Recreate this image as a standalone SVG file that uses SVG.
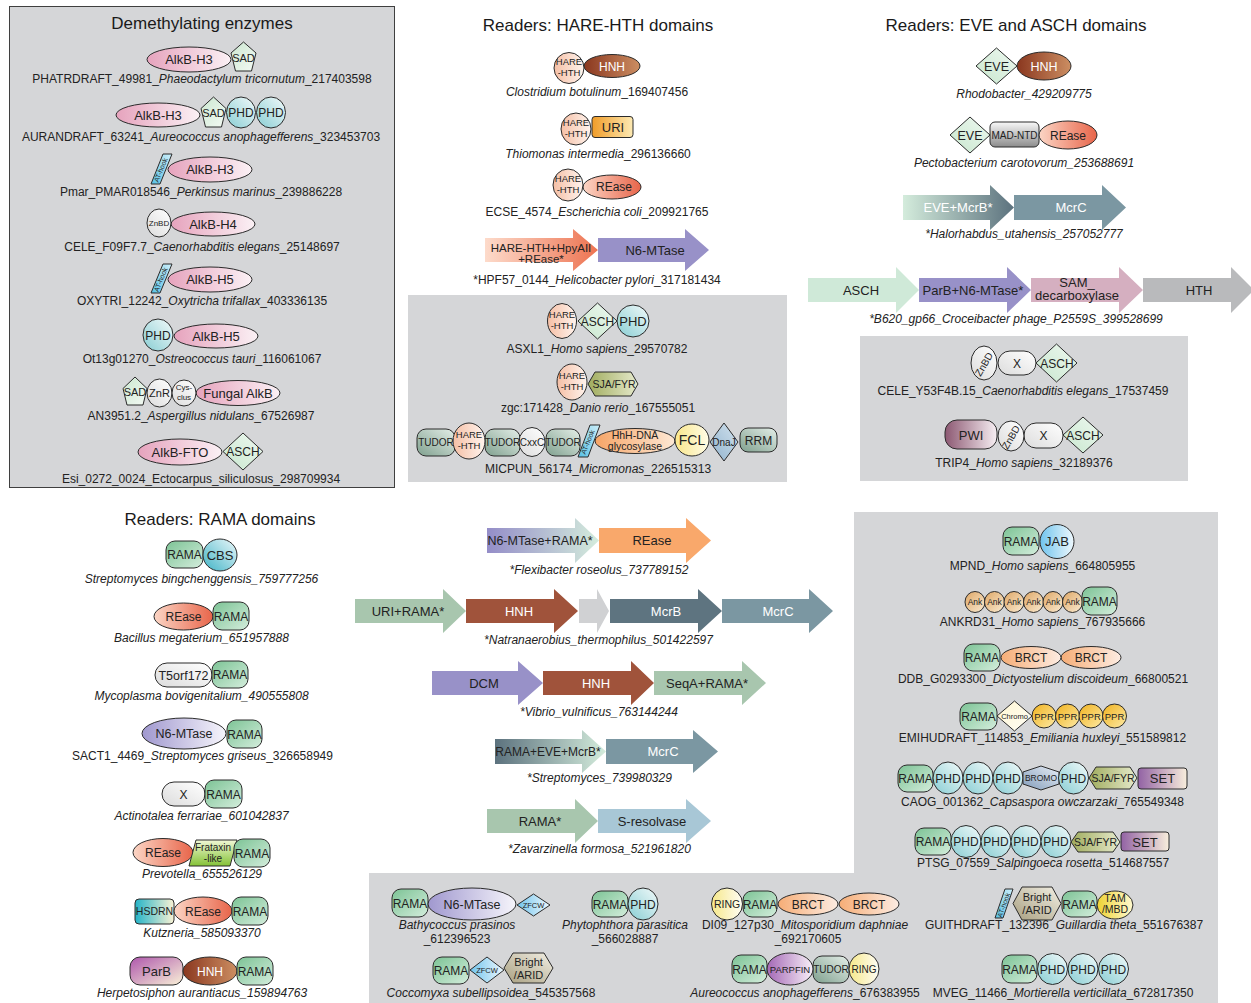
<svg xmlns="http://www.w3.org/2000/svg" width="1251" height="1003" viewBox="0 0 1251 1003">
<defs>
<style>
text{font-family:"Liberation Sans",Arial,Helvetica,sans-serif;fill:#222}
.t{font-size:17px;text-anchor:middle;fill:#1a1a1a}
.l{font-size:12px;text-anchor:middle}
.d{font-size:13px;text-anchor:middle}
.r{font-size:12px;text-anchor:middle}
.s{font-size:10px;text-anchor:middle}
.xs{font-size:8px;text-anchor:middle}
.w{fill:#fff}
.i{font-style:italic}
.n ellipse,.n rect,.n polygon{stroke:#2b2b2b;stroke-width:1}
.panel{fill:#d5d6d8}
.alkb{fill:url(#gAlkb)}.sad{fill:url(#gSad)}.phd{fill:url(#gPhd)}.asch{fill:url(#gAsch)}
.at{fill:url(#gAt)}.wh{fill:url(#gWhite)}.hare{fill:url(#gHare)}.hnh{fill:url(#gHnh)}
.rease{fill:url(#gRease)}.uri{fill:url(#gUri)}.rama{fill:url(#gRama)}.cbs{fill:url(#gCbs)}
.n6{fill:url(#gN6)}.frat{fill:url(#gFrat)}.hsdrn{fill:url(#gHsdrn)}.parb{fill:url(#gParb)}
.jab{fill:url(#gJab)}.ank{fill:url(#gAnk)}.brct{fill:url(#gBrct)}.ppr{fill:url(#gPpr)}
.bromo{fill:url(#gBromo)}.sja{fill:url(#gSja)}.set{fill:url(#gSet)}.ring{fill:url(#gRing)}
.tudor{fill:url(#gTudor)}.arid{fill:url(#gArid)}.tam{fill:url(#gTam)}.parp{fill:url(#gParp)}
.fcl{fill:url(#gFcl)}.dnaj{fill:url(#gDnaj)}.hhh{fill:url(#gHhh)}.mad{fill:url(#gMad)}
.pwi{fill:url(#gPwi)}.chromo{fill:url(#gChromo)}
</style>
<linearGradient id="gAlkb" x1="0" y1="0" x2="1" y2="0"><stop offset="0" stop-color="#e6a3bd"/><stop offset="1" stop-color="#fbf1f5"/></linearGradient>
<linearGradient id="gSad" x1="0" y1="0" x2="1" y2="1"><stop offset="0" stop-color="#cbe7d0"/><stop offset="1" stop-color="#f4faf4"/></linearGradient>
<linearGradient id="gPhd" x1="0" y1="1" x2="1" y2="0"><stop offset="0" stop-color="#88cdd3"/><stop offset="1" stop-color="#f2fafa"/></linearGradient>
<linearGradient id="gAsch" x1="0" y1="1" x2="1" y2="0"><stop offset="0" stop-color="#c8e7ce"/><stop offset="1" stop-color="#eef8f0"/></linearGradient>
<linearGradient id="gAt" x1="0" y1="1" x2="1" y2="0"><stop offset="0" stop-color="#56c0e5"/><stop offset="1" stop-color="#cdeef9"/></linearGradient>
<linearGradient id="gWhite" x1="1" y1="0" x2="0" y2="1"><stop offset="0" stop-color="#ffffff"/><stop offset="1" stop-color="#dcdcdc"/></linearGradient>
<linearGradient id="gHare" x1="0" y1="0" x2="1" y2="0"><stop offset="0" stop-color="#f5bfa5"/><stop offset="1" stop-color="#fff4ee"/></linearGradient>
<linearGradient id="gHnh" x1="0" y1="0" x2="1" y2="0"><stop offset="0" stop-color="#8a371f"/><stop offset="1" stop-color="#cc8e62"/></linearGradient>
<linearGradient id="gRease" x1="0" y1="0" x2="1" y2="0"><stop offset="0" stop-color="#fbd5c5"/><stop offset="1" stop-color="#e8654a"/></linearGradient>
<linearGradient id="gUri" x1="0" y1="0" x2="1" y2="0"><stop offset="0" stop-color="#f09c28"/><stop offset="1" stop-color="#fdeab4"/></linearGradient>
<linearGradient id="gRama" x1="0" y1="0" x2="1" y2="1"><stop offset="0" stop-color="#7cc395"/><stop offset="1" stop-color="#d4eddc"/></linearGradient>
<linearGradient id="gCbs" x1="0" y1="1" x2="1" y2="0"><stop offset="0" stop-color="#40b3c6"/><stop offset="1" stop-color="#ecf8fa"/></linearGradient>
<linearGradient id="gN6" x1="0" y1="0" x2="1" y2="0"><stop offset="0" stop-color="#a098cf"/><stop offset="1" stop-color="#f6f5fb"/></linearGradient>
<linearGradient id="gFrat" x1="0" y1="1" x2="0" y2="0"><stop offset="0" stop-color="#84c236"/><stop offset="1" stop-color="#f1f8d6"/></linearGradient>
<linearGradient id="gHsdrn" x1="0" y1="0" x2="1" y2="0"><stop offset="0" stop-color="#25b4c8"/><stop offset="1" stop-color="#faf2d4"/></linearGradient>
<linearGradient id="gParb" x1="0" y1="0" x2="1" y2="1"><stop offset="0" stop-color="#ae56ac"/><stop offset="1" stop-color="#faf2d8"/></linearGradient>
<linearGradient id="gJab" x1="0" y1="0" x2="1" y2="0"><stop offset="0" stop-color="#70c4ee"/><stop offset="1" stop-color="#eef8fd"/></linearGradient>
<linearGradient id="gAnk" x1="0" y1="0" x2="1" y2="1"><stop offset="0" stop-color="#dea664"/><stop offset="1" stop-color="#faecd4"/></linearGradient>
<linearGradient id="gBrct" x1="0" y1="0" x2="1" y2="0"><stop offset="0" stop-color="#f6ad76"/><stop offset="1" stop-color="#fdece2"/></linearGradient>
<linearGradient id="gPpr" x1="0" y1="0" x2="1" y2="1"><stop offset="0" stop-color="#f0b21e"/><stop offset="1" stop-color="#fdeaa6"/></linearGradient>
<linearGradient id="gBromo" x1="0" y1="1" x2="1" y2="0"><stop offset="0" stop-color="#829cba"/><stop offset="1" stop-color="#e8eef6"/></linearGradient>
<linearGradient id="gSja" x1="0" y1="0" x2="1" y2="0"><stop offset="0" stop-color="#a0ac5e"/><stop offset="1" stop-color="#e6eacc"/></linearGradient>
<linearGradient id="gSet" x1="0" y1="0" x2="1" y2="0"><stop offset="0" stop-color="#9262a4"/><stop offset="1" stop-color="#f8eedc"/></linearGradient>
<linearGradient id="gRing" x1="0" y1="0" x2="1" y2="0"><stop offset="0" stop-color="#f6e88a"/><stop offset="1" stop-color="#fffdf4"/></linearGradient>
<linearGradient id="gTudor" x1="0" y1="1" x2="1" y2="0"><stop offset="0" stop-color="#7fa08e"/><stop offset="1" stop-color="#e4eee8"/></linearGradient>
<linearGradient id="gArid" x1="0" y1="1" x2="1" y2="0"><stop offset="0" stop-color="#a89f80"/><stop offset="1" stop-color="#f2efe4"/></linearGradient>
<linearGradient id="gTam" x1="0" y1="0" x2="1" y2="0"><stop offset="0" stop-color="#eed232"/><stop offset="1" stop-color="#fffad0"/></linearGradient>
<linearGradient id="gParp" x1="0" y1="0" x2="1" y2="0"><stop offset="0" stop-color="#a468b6"/><stop offset="1" stop-color="#f8f0f8"/></linearGradient>
<linearGradient id="gFcl" x1="0" y1="0" x2="1" y2="0"><stop offset="0" stop-color="#fae78a"/><stop offset="1" stop-color="#fffce8"/></linearGradient>
<linearGradient id="gDnaj" x1="0" y1="1" x2="1" y2="0"><stop offset="0" stop-color="#90b2cd"/><stop offset="1" stop-color="#d2e2ee"/></linearGradient>
<linearGradient id="gHhh" x1="0" y1="0" x2="1" y2="0"><stop offset="0" stop-color="#f6a466"/><stop offset="1" stop-color="#fde8d4"/></linearGradient>
<linearGradient id="gMad" x1="0" y1="1" x2="0" y2="0"><stop offset="0" stop-color="#8c8c8c"/><stop offset="1" stop-color="#f8f8f8"/></linearGradient>
<linearGradient id="gPwi" x1="0" y1="0" x2="1" y2="0"><stop offset="0" stop-color="#8c5872"/><stop offset="1" stop-color="#f7eff3"/></linearGradient>
<linearGradient id="gChromo" x1="0" y1="0" x2="1" y2="1"><stop offset="0" stop-color="#fff6d2"/><stop offset="1" stop-color="#fffef6"/></linearGradient>
<linearGradient id="aHare" x1="0" y1="0" x2="1" y2="0"><stop offset="0" stop-color="#fddbcb"/><stop offset="1" stop-color="#ed7351"/></linearGradient>
<linearGradient id="aEve" x1="0" y1="0" x2="1" y2="0"><stop offset="0" stop-color="#d4ecdc"/><stop offset="1" stop-color="#5c727e"/></linearGradient>
<linearGradient id="aN6r" x1="0" y1="0" x2="1" y2="0"><stop offset="0" stop-color="#948dc8"/><stop offset="1" stop-color="#d4ecdc"/></linearGradient>
<linearGradient id="aRev" x1="0" y1="0" x2="1" y2="0"><stop offset="0" stop-color="#5c727e"/><stop offset="1" stop-color="#d4ecdc"/></linearGradient>
</defs>

<!-- panels -->
<g id="panels">
<rect x="9.5" y="6.5" width="385" height="481" class="panel" stroke="#3f3f3f" stroke-width="1"/>
<rect x="408" y="295" width="379" height="187" class="panel"/>
<rect x="860" y="336" width="328" height="145" class="panel"/>
<path d="M854,512 H1218 V1003 H369 V873 H854 Z" class="panel"/>
</g>

<g id="titles">
<text class="t" x="202" y="29">Demethylating enzymes</text>
<text class="t" x="598" y="31">Readers: HARE-HTH domains</text>
<text class="t" x="1016" y="31">Readers: EVE and ASCH domains</text>
<text class="t" x="220" y="525">Readers: RAMA domains</text>
</g>

<g id="connectors"/>

<!-- Demethylating enzymes -->
<g id="d-phatrdraft" class="n">
<ellipse class="alkb" cx="189" cy="59.5" rx="42" ry="12.5"/>
<polygon class="sad" points="243.5,42 256,53 251.5,71 235.5,71 231,53"/>
<text class="d" x="189" y="64">AlkB-H3</text>
<text x="243.5" y="62" font-size="11" text-anchor="middle">SAD</text>
<text class="l" x="202" y="83">PHATRDRAFT_49981_<tspan class="i">Phaeodactylum tricornutum</tspan>_217403598</text>
</g>
<g id="d-aurandraft" class="n">
<ellipse class="alkb" cx="158" cy="115" rx="42" ry="12"/>
<polygon class="sad" points="213.5,97 226,108.5 221.5,127 205.5,127 201,108.5"/>
<ellipse class="phd" cx="241" cy="112.5" rx="14.5" ry="15.5"/>
<ellipse class="phd" cx="271" cy="112.5" rx="14.5" ry="15.5"/>
<text class="d" x="158" y="119.5">AlkB-H3</text>
<text x="213.5" y="117" font-size="11" text-anchor="middle">SAD</text>
<text class="r" x="241" y="117">PHD</text>
<text class="r" x="271" y="117">PHD</text>
<text class="l" x="201" y="141">AURANDRAFT_63241_<tspan class="i">Aureococcus anophagefferens</tspan>_323453703</text>
</g>
<g id="d-pmar" class="n">
<polygon class="at" points="151,184 160,184 172,154 163,154"/>
<text font-size="7" text-anchor="middle" transform="translate(163,171) rotate(-68)">AT-hook</text>
<ellipse class="alkb" cx="210" cy="169.5" rx="42" ry="12.5"/>
<text class="d" x="210" y="174">AlkB-H3</text>
<text class="l" x="201" y="196">Pmar_PMAR018546_<tspan class="i">Perkinsus marinus</tspan>_239886228</text>
</g>
<g id="d-cele-f09f7" class="n">
<ellipse class="alkb" cx="213" cy="224" rx="42" ry="12"/>
<ellipse class="wh" cx="159" cy="223" rx="12" ry="14"/>
<text class="xs" x="159" y="226">ZnBD</text>
<text class="d" x="213" y="228.5">AlkB-H4</text>
<text class="l" x="202" y="251">CELE_F09F7.7_<tspan class="i">Caenorhabditis elegans</tspan>_25148697</text>
</g>
<g id="d-oxytri" class="n">
<polygon class="at" points="151,293 160,293 172,264 163,264"/>
<text font-size="7" text-anchor="middle" transform="translate(163,280.5) rotate(-68)">AT-hook</text>
<ellipse class="alkb" cx="210" cy="279.5" rx="42" ry="12.5"/>
<text class="d" x="210" y="284">AlkB-H5</text>
<text class="l" x="202" y="305">OXYTRI_12242_<tspan class="i">Oxytricha trifallax</tspan>_403336135</text>
</g>
<g id="d-ot13g01270" class="n">
<ellipse class="alkb" cx="216" cy="336" rx="42" ry="12"/>
<ellipse class="phd" cx="158" cy="335" rx="15" ry="16"/>
<text class="r" x="158" y="339.5">PHD</text>
<text class="d" x="216" y="340.5">AlkB-H5</text>
<text class="l" x="202" y="363">Ot13g01270_<tspan class="i">Ostreococcus tauri</tspan>_116061067</text>
</g>
<g id="d-an3951" class="n">
<ellipse class="alkb" cx="238" cy="393" rx="42" ry="12.5"/>
<polygon class="sad" points="135,377 147,388.5 143,405 127,405 123,388.5"/>
<ellipse class="wh" cx="159.5" cy="393" rx="12.5" ry="14"/>
<ellipse class="wh" cx="184" cy="393" rx="12" ry="13"/>
<text x="135" y="396" font-size="11" text-anchor="middle">SAD</text>
<text x="159.5" y="397" font-size="11" text-anchor="middle">ZnR</text>
<text class="xs" x="184" y="390">Cys-</text>
<text class="xs" x="184" y="400">clus</text>
<text class="d" x="238" y="397.5">Fungal AlkB</text>
<text class="l" x="201" y="420">AN3951.2_<tspan class="i">Aspergillus nidulans</tspan>_67526987</text>
</g>
<g id="d-esi0272" class="n">
<ellipse class="alkb" cx="180" cy="452" rx="42" ry="13"/>
<polygon class="asch" points="223,451.5 243,433 263,451.5 243,470"/>
<text class="d" x="180" y="456.5">AlkB-FTO</text>
<text class="r" x="243" y="456">ASCH</text>
<text class="l" x="201" y="483">Esi_0272_0024_Ectocarpus_siliculosus_298709934</text>
</g>

<!-- HARE-HTH -->
<g id="h-clostridium" class="n">
<ellipse class="hnh" cx="612" cy="66" rx="28" ry="11.5"/>
<ellipse class="hare" cx="569" cy="68" rx="15" ry="15.5"/>
<text x="569" y="64.5" font-size="9.5" text-anchor="middle" fill="#444">HARE</text>
<text x="569" y="76" font-size="9.5" text-anchor="middle" fill="#444">-HTH</text>
<text class="r w" x="612" y="70.5">HNH</text>
<text class="l" x="597" y="95.5"><tspan class="i">Clostridium botulinum</tspan>_169407456</text>
</g>
<g id="h-thiomonas" class="n">
<rect class="uri" x="592" y="116.5" width="41" height="21" rx="3"/>
<ellipse class="hare" cx="576" cy="129" rx="15" ry="16"/>
<text x="576" y="125.5" font-size="9.5" text-anchor="middle" fill="#444">HARE</text>
<text x="576" y="137" font-size="9.5" text-anchor="middle" fill="#444">-HTH</text>
<text class="d" x="613" y="131.5">URI</text>
<text class="l" x="598" y="158"><tspan class="i">Thiomonas intermedia</tspan>_296136660</text>
</g>
<g id="h-ecse4574" class="n">
<ellipse class="rease" cx="612" cy="187" rx="29" ry="12"/>
<ellipse class="hare" cx="568" cy="185" rx="15" ry="16"/>
<text x="568" y="181.5" font-size="9.5" text-anchor="middle" fill="#444">HARE</text>
<text x="568" y="193" font-size="9.5" text-anchor="middle" fill="#444">-HTH</text>
<text class="r" x="614" y="191">REase</text>
<text class="l" x="597" y="216">ECSE_4574_<tspan class="i">Escherichia coli</tspan>_209921765</text>
</g>
<g id="h-hpf57">
<path d="M485,238 L573,238 L573,229 L598,250 L573,271 L573,262 L485,262 Z" fill="url(#aHare)"/>
<path d="M598,238 L685,238 L685,229 L709,250 L685,271 L685,262 L598,262 Z" fill="#9891c8"/>
<text x="541" y="252" font-size="11.5" text-anchor="middle">HARE-HTH+HpyAII</text>
<text x="541" y="263" font-size="11.5" text-anchor="middle">+REase*</text>
<text class="d" x="655" y="255">N6-MTase</text>
<text class="l" x="597" y="284">*HPF57_0144_<tspan class="i">Helicobacter pylori</tspan>_317181434</text>
</g>
<g id="h-asxl1" class="n">
<ellipse class="hare" cx="562" cy="321" rx="14.5" ry="17.5"/>
<polygon class="asch" points="578,321 597.5,303 617,321 597.5,339"/>
<ellipse class="phd" cx="633" cy="321" rx="16" ry="16"/>
<text x="562" y="317.5" font-size="9.5" text-anchor="middle" fill="#444">HARE</text>
<text x="562" y="329" font-size="9.5" text-anchor="middle" fill="#444">-HTH</text>
<text class="r" x="597.5" y="325.5">ASCH</text>
<text class="d" x="633" y="325.5">PHD</text>
<text class="l" x="597" y="353">ASXL1_<tspan class="i">Homo sapiens</tspan>_29570782</text>
</g>
<g id="h-zgc171428" class="n">
<polygon class="sja" points="588,384 595,372 631,372 638,384 631,396 595,396"/>
<ellipse class="hare" cx="572" cy="382" rx="15" ry="18"/>
<text x="572" y="378.5" font-size="9.5" text-anchor="middle" fill="#444">HARE</text>
<text x="572" y="390" font-size="9.5" text-anchor="middle" fill="#444">-HTH</text>
<text x="614" y="388" font-size="10.5" text-anchor="middle">SJA/FYR</text>
<text class="l" x="598" y="411.5">zgc:171428_<tspan class="i">Danio rerio</tspan>_167555051</text>
</g>
<g id="h-micpun" class="n">
<rect class="tudor" x="417" y="429" width="38" height="27" rx="9"/>
<rect class="tudor" x="485" y="429" width="35" height="27" rx="9"/>
<rect class="tudor" x="546" y="429" width="34" height="27" rx="9"/>
<ellipse class="hare" cx="469" cy="441" rx="16" ry="18"/>
<ellipse class="wh" cx="532" cy="442" rx="13" ry="14.5"/>
<polygon class="at" points="578,457 588,457 600,425 590,425"/>
<ellipse class="hhh" cx="635" cy="441" rx="40" ry="12.5"/>
<ellipse class="fcl" cx="692" cy="440" rx="17" ry="16"/>
<polygon class="dnaj" points="710,442 724,423 738,442 724,461"/>
<rect class="tudor" x="740" y="428" width="37" height="24" rx="8"/>
<text class="s" x="436" y="446">TUDOR</text>
<text x="469" y="437.5" font-size="9.5" text-anchor="middle" fill="#444">HARE</text>
<text x="469" y="449" font-size="9.5" text-anchor="middle" fill="#444">-HTH</text>
<text class="s" x="502.5" y="446">TUDOR</text>
<text class="s" x="532" y="446">CxxC</text>
<text class="s" x="563" y="446">TUDOR</text>
<text font-size="7" text-anchor="middle" transform="translate(590,443) rotate(-68)">AT-hook</text>
<text x="635" y="439" font-size="10.5" text-anchor="middle">HhH-DNA</text>
<text x="635" y="450" font-size="10.5" text-anchor="middle">glycosylase</text>
<text x="692" y="445" font-size="14" text-anchor="middle">FCL</text>
<text class="s" x="724" y="445.5">DnaJ</text>
<text class="r" x="758.5" y="444.5">RRM</text>
<text class="l" x="598" y="472.5">MICPUN_56174_<tspan class="i">Micromonas</tspan>_226515313</text>
</g>

<!-- EVE and ASCH -->
<g id="e-rhodobacter" class="n">
<ellipse class="hnh" cx="1044" cy="66" rx="27" ry="14"/>
<polygon class="asch" points="976,66 996.5,48 1017,66 996.5,84"/>
<text x="996.5" y="70.5" font-size="12.5" text-anchor="middle">EVE</text>
<text x="1044" y="70.5" font-size="12.5" text-anchor="middle" class="w">HNH</text>
<text class="l i" x="1024" y="98">Rhodobacter_429209775</text>
</g>
<g id="e-pectobacterium" class="n">
<polygon class="asch" points="950,135 970,117 990,135 970,153"/>
<rect class="mad" x="990" y="122" width="49" height="25" rx="5"/>
<ellipse class="rease" cx="1068" cy="135" rx="29" ry="14"/>
<text x="970" y="139.5" font-size="12.5" text-anchor="middle">EVE</text>
<text class="s" x="1014.5" y="138.5">MAD-NTD</text>
<text class="r" x="1068" y="139.5">REase</text>
<text class="l i" x="1024" y="166.5">Pectobacterium carotovorum_253688691</text>
</g>
<g id="e-halorhabdus">
<path d="M903,195 L990,195 L990,185 L1014,207.5 L990,230 L990,220 L903,220 Z" fill="url(#aEve)"/>
<path d="M1014,195 L1102,195 L1102,185 L1126,207.5 L1102,230 L1102,220 L1014,220 Z" fill="#7b97a2"/>
<text class="d w" x="958" y="212">EVE+McrB*</text>
<text class="d w" x="1071" y="212">McrC</text>
<text class="l i" x="1024" y="238">*Halorhabdus_utahensis_257052777</text>
</g>
<g id="e-b620">
<path d="M808,278 L896,278 L896,267 L919,290 L896,313 L896,302 L808,302 Z" fill="#cfe9d8"/>
<path d="M919,278 L1007,278 L1007,267 L1031,290 L1007,313 L1007,302 L919,302 Z" fill="#9891c8"/>
<path d="M1031,278 L1119,278 L1119,267 L1143,290 L1119,313 L1119,302 L1031,302 Z" fill="#d5afc0"/>
<path d="M1143,278 L1231,278 L1231,267 L1254,290 L1231,313 L1231,302 L1143,302 Z" fill="#b9babc"/>
<text class="d" x="861" y="294.5">ASCH</text>
<text class="d" x="973" y="294.5">ParB+N6-MTase*</text>
<text class="d" x="1077" y="287">SAM_</text>
<text class="d" x="1077" y="299.5">decarboxylase</text>
<text class="d" x="1199" y="294.5">HTH</text>
<text class="l i" x="1016" y="323">*B620_gp66_Croceibacter phage_P2559S_399528699</text>
</g>
<g id="e-cele-y53f4b" class="n">
<rect class="wh" x="998" y="351" width="38" height="24" rx="12"/>
<ellipse class="wh" cx="984" cy="363" rx="13" ry="17"/>
<polygon class="asch" points="1036,363 1056.5,344 1077,363 1056.5,382"/>
<text class="s" transform="translate(987,366) rotate(-60)">ZnBD</text>
<text class="r" x="1017" y="367.5">X</text>
<text class="r" x="1057" y="367.5">ASCH</text>
<text class="l" x="1023" y="395">CELE_Y53F4B.15_<tspan class="i">Caenorhabditis elegans</tspan>_17537459</text>
</g>
<g id="e-trip4" class="n">
<rect class="pwi" x="945" y="420" width="52" height="29" rx="12"/>
<rect class="wh" x="1024" y="423" width="39" height="25" rx="12"/>
<ellipse class="wh" cx="1011" cy="436" rx="13" ry="15"/>
<polygon class="asch" points="1063,435 1083,417 1103,435 1083,453"/>
<text class="d" x="971" y="439.5">PWI</text>
<text class="s" transform="translate(1014,439) rotate(-60)">ZnBD</text>
<text class="r" x="1043.5" y="440">X</text>
<text class="r" x="1083" y="439.5">ASCH</text>
<text class="l" x="1024" y="467">TRIP4_<tspan class="i">Homo sapiens</tspan>_32189376</text>
</g>

<!-- RAMA domains -->
<g id="r-sbing" class="n">
<rect class="rama" x="166" y="541" width="37" height="27" rx="9"/>
<ellipse class="cbs" cx="220" cy="555" rx="17" ry="16"/>
<text class="r" x="184.5" y="558.5">RAMA</text>
<text class="d" x="220" y="559.5">CBS</text>
<text class="l i" x="201.5" y="583">Streptomyces bingchenggensis_759777256</text>
</g>
<g id="r-bacillus" class="n">
<ellipse class="rease" cx="183.5" cy="616.5" rx="29.5" ry="13.5"/>
<rect class="rama" x="213" y="602" width="36" height="28" rx="9"/>
<text class="r" x="183.5" y="621">REase</text>
<text class="r" x="231" y="620.5">RAMA</text>
<text class="l i" x="201.5" y="642">Bacillus megaterium_651957888</text>
</g>
<g id="r-mycoplasma" class="n">
<rect class="wh" x="155" y="663" width="57" height="24" rx="12"/>
<rect class="rama" x="212" y="661" width="36" height="27" rx="9"/>
<text x="183.5" y="679.5" font-size="12.5" text-anchor="middle">T5orf172</text>
<text class="r" x="230" y="679">RAMA</text>
<text class="l i" x="201.5" y="700">Mycoplasma bovigenitalium_490555808</text>
</g>
<g id="r-sact1" class="n">
<ellipse class="n6" cx="184" cy="733.5" rx="42" ry="15.5"/>
<rect class="rama" x="227" y="720" width="35" height="28" rx="9"/>
<text x="184" y="738" font-size="12.5" text-anchor="middle">N6-MTase</text>
<text class="r" x="244.5" y="738.5">RAMA</text>
<text class="l" x="202.5" y="760">SACT1_4469_<tspan class="i">Streptomyces griseus</tspan>_326658949</text>
</g>
<g id="r-actinotalea" class="n">
<rect class="wh" x="162" y="782" width="43" height="24" rx="12"/>
<rect class="rama" x="205" y="780" width="37" height="28" rx="9"/>
<text class="r" x="183.5" y="798.5">X</text>
<text class="r" x="223.5" y="798.5">RAMA</text>
<text class="l i" x="201.5" y="820">Actinotalea ferrariae_601042837</text>
</g>
<g id="r-prevotella" class="n">
<ellipse class="rease" cx="163" cy="852.5" rx="30" ry="14"/>
<polygon class="frat" points="189,866 196,840 237,840 230,866"/>
<rect class="rama" x="234" y="839" width="36" height="28" rx="9"/>
<text class="r" x="163" y="857">REase</text>
<text class="s" x="213" y="851">Frataxin</text>
<text class="s" x="213" y="862">-like</text>
<text class="r" x="252" y="857.5">RAMA</text>
<text class="l i" x="202" y="878">Prevotella_655526129</text>
</g>
<g id="r-kutzneria" class="n">
<rect class="hsdrn" x="135" y="899" width="39" height="25" rx="4"/>
<ellipse class="rease" cx="203" cy="911" rx="29" ry="14"/>
<rect class="rama" x="232" y="897" width="36" height="28" rx="9"/>
<text x="154.5" y="915" font-size="10.5" text-anchor="middle">HSDRN</text>
<text class="r" x="203" y="915.5">REase</text>
<text class="r" x="250" y="915.5">RAMA</text>
<text class="l i" x="202" y="937">Kutzneria_585093370</text>
</g>
<g id="r-herpetosiphon" class="n">
<rect class="parb" x="130" y="957" width="53" height="28" rx="10"/>
<ellipse class="hnh" cx="210" cy="971" rx="27" ry="14"/>
<rect class="rama" x="237" y="957" width="36" height="28" rx="9"/>
<text class="d" x="156.5" y="975.5">ParB</text>
<text class="r w" x="210" y="975.5">HNH</text>
<text class="r" x="255" y="975.5">RAMA</text>
<text class="l i" x="202" y="997">Herpetosiphon aurantiacus_159894763</text>
</g>

<!-- middle operons -->
<g id="m-flexibacter">
<path d="M487,528 L575,528 L575,518 L599,540.5 L575,563 L575,553 L487,553 Z" fill="url(#aN6r)"/>
<path d="M599,528 L686,528 L686,518 L711,540.5 L686,563 L686,553 L599,553 Z" fill="#f9a86b"/>
<text x="540" y="545" font-size="12.5" text-anchor="middle">N6-MTase+RAMA*</text>
<text class="d" x="652" y="545">REase</text>
<text class="l i" x="599" y="574">*Flexibacter roseolus_737789152</text>
</g>
<g id="m-natranaerobius">
<path d="M355,599 L443,599 L443,589 L466,611 L443,633 L443,623 L355,623 Z" fill="#a8c6ae"/>
<path d="M466,599 L554,599 L554,589 L578,611 L554,633 L554,623 L466,623 Z" fill="#a0533b"/>
<path d="M579,599 L597,599 L597,589 L609,611 L597,633 L597,623 L579,623 Z" fill="#d0d1d3"/>
<path d="M610,599 L698,599 L698,589 L722,611 L698,633 L698,623 L610,623 Z" fill="#5e7480"/>
<path d="M722,599 L809,599 L809,589 L833,611 L809,633 L809,623 L722,623 Z" fill="#7b97a2"/>
<text class="d" x="408" y="615.5">URI+RAMA*</text>
<text class="d w" x="519" y="615.5">HNH</text>
<text class="d w" x="666" y="615.5">McrB</text>
<text class="d w" x="778" y="615.5">McrC</text>
<text class="l i" x="598.5" y="644">*Natranaerobius_thermophilus_501422597</text>
</g>
<g id="m-vibrio">
<path d="M432,671 L518,671 L518,661 L543,683 L518,705 L518,695 L432,695 Z" fill="#9891c8"/>
<path d="M543,671 L631,671 L631,661 L654,683 L631,705 L631,695 L543,695 Z" fill="#a0533b"/>
<path d="M654,671 L742,671 L742,661 L766,683 L742,705 L742,695 L654,695 Z" fill="#a8c6ae"/>
<text class="d" x="484" y="687.5">DCM</text>
<text class="d w" x="596" y="687.5">HNH</text>
<text class="d" x="707" y="687.5">SeqA+RAMA*</text>
<text class="l i" x="599" y="716">*Vibrio_vulnificus_763144244</text>
</g>
<g id="m-streptomyces">
<path d="M495,739 L582,739 L582,730 L606,751.5 L582,773 L582,764 L495,764 Z" fill="url(#aRev)"/>
<path d="M606,739 L693,739 L693,730 L718,751.5 L693,773 L693,764 L606,764 Z" fill="#7b97a2"/>
<text x="548" y="756" font-size="12" text-anchor="middle">RAMA+EVE+McrB*</text>
<text class="d w" x="663" y="756">McrC</text>
<text class="l i" x="599.5" y="782">*Streptomyces_739980329</text>
</g>
<g id="m-zavarzinella">
<path d="M487,809 L575,809 L575,799 L598,821 L575,843 L575,833 L487,833 Z" fill="#a8c6ae"/>
<path d="M598,809 L686,809 L686,799 L711,821 L686,843 L686,833 L598,833 Z" fill="#a8c7d6"/>
<text class="d" x="540" y="825.5">RAMA*</text>
<text class="d" x="652" y="825.5">S-resolvase</text>
<text class="l i" x="599.5" y="853">*Zavarzinella formosa_521961820</text>
</g>

<!-- bottom right panel -->
<g id="b-mpnd" class="n">
<rect class="rama" x="1003" y="527" width="36" height="28" rx="9"/>
<ellipse class="jab" cx="1057" cy="541.5" rx="17" ry="17"/>
<text class="r" x="1021" y="545.5">RAMA</text>
<text class="d" x="1057" y="546">JAB</text>
<text class="l" x="1042.5" y="570">MPND_<tspan class="i">Homo sapiens</tspan>_664805955</text>
</g>
<g id="b-ankrd31" class="n">
<ellipse class="ank" cx="975" cy="602" rx="10" ry="10.5"/>
<ellipse class="ank" cx="994.5" cy="602" rx="10" ry="10.5"/>
<ellipse class="ank" cx="1014" cy="602" rx="10" ry="10.5"/>
<ellipse class="ank" cx="1033.5" cy="602" rx="10" ry="10.5"/>
<ellipse class="ank" cx="1053" cy="602" rx="10" ry="10.5"/>
<ellipse class="ank" cx="1072.5" cy="602" rx="10" ry="10.5"/>
<rect class="rama" x="1082" y="587" width="35" height="28" rx="9"/>
<text x="975" y="605" font-size="8.5" text-anchor="middle">Ank</text>
<text x="994.5" y="605" font-size="8.5" text-anchor="middle">Ank</text>
<text x="1014" y="605" font-size="8.5" text-anchor="middle">Ank</text>
<text x="1033.5" y="605" font-size="8.5" text-anchor="middle">Ank</text>
<text x="1053" y="605" font-size="8.5" text-anchor="middle">Ank</text>
<text x="1072.5" y="605" font-size="8.5" text-anchor="middle">Ank</text>
<text class="r" x="1099.5" y="605.5">RAMA</text>
<text class="l" x="1042.5" y="626">ANKRD31_<tspan class="i">Homo sapiens</tspan>_767935666</text>
</g>
<g id="b-ddb" class="n">
<ellipse class="brct" cx="1091" cy="657.5" rx="30" ry="11"/>
<ellipse class="brct" cx="1031" cy="657.5" rx="30" ry="11"/>
<rect class="rama" x="964" y="644" width="36" height="27" rx="9"/>
<text class="r" x="982" y="661.5">RAMA</text>
<text class="r" x="1031" y="662">BRCT</text>
<text class="r" x="1091" y="662">BRCT</text>
<text class="l" x="1043" y="683">DDB_G0293300_<tspan class="i">Dictyostelium discoideum</tspan>_66800521</text>
</g>
<g id="b-emihudraft" class="n">
<rect class="rama" x="960" y="703" width="37" height="27" rx="9"/>
<polygon class="chromo" points="997,716 1014.5,701 1032,716 1014.5,731"/>
<ellipse class="ppr" cx="1044" cy="716" rx="12" ry="12"/>
<ellipse class="ppr" cx="1067.5" cy="716" rx="12" ry="12"/>
<ellipse class="ppr" cx="1091" cy="716" rx="12" ry="12"/>
<ellipse class="ppr" cx="1114.5" cy="716" rx="12" ry="12"/>
<text class="r" x="978.5" y="720.5">RAMA</text>
<text x="1014.5" y="718.5" font-size="7.5" text-anchor="middle" fill="#8a8a8a">Chromo</text>
<text x="1044" y="719.5" font-size="9.5" text-anchor="middle">PPR</text>
<text x="1067.5" y="719.5" font-size="9.5" text-anchor="middle">PPR</text>
<text x="1091" y="719.5" font-size="9.5" text-anchor="middle">PPR</text>
<text x="1114.5" y="719.5" font-size="9.5" text-anchor="middle">PPR</text>
<text class="l" x="1042.5" y="742">EMIHUDRAFT_114853_<tspan class="i">Emiliania huxleyi</tspan>_551589812</text>
</g>
<g id="b-caog" class="n">
<rect class="rama" x="898" y="765" width="35" height="27" rx="9"/>
<ellipse class="phd" cx="948" cy="778" rx="15" ry="16"/>
<ellipse class="phd" cx="978" cy="778" rx="15" ry="16"/>
<ellipse class="phd" cx="1008" cy="778" rx="15" ry="16"/>
<polygon class="bromo" points="1023,772 1041,766 1059,772 1059,784 1041,790 1023,784"/>
<ellipse class="phd" cx="1073.5" cy="778" rx="15" ry="16"/>
<polygon class="sja" points="1089,778 1096,767 1130,767 1137,778 1130,789 1096,789"/>
<rect class="set" x="1138" y="768" width="49" height="21" rx="3"/>
<text class="r" x="915.5" y="782.5">RAMA</text>
<text class="r" x="948" y="782.5">PHD</text>
<text class="r" x="978" y="782.5">PHD</text>
<text class="r" x="1008" y="782.5">PHD</text>
<text x="1041" y="781" font-size="8.5" text-anchor="middle">BROMO</text>
<text class="r" x="1073.5" y="782.5">PHD</text>
<text x="1113" y="782" font-size="10.5" text-anchor="middle">SJA/FYR</text>
<text x="1162.5" y="783" font-size="13" text-anchor="middle">SET</text>
<text class="l" x="1042.5" y="806">CAOG_001362_<tspan class="i">Capsaspora owczarzaki</tspan>_765549348</text>
</g>
<g id="b-ptsg" class="n">
<rect class="rama" x="915" y="828" width="36" height="27" rx="9"/>
<ellipse class="phd" cx="966" cy="841.5" rx="15" ry="16"/>
<ellipse class="phd" cx="996" cy="841.5" rx="15" ry="16"/>
<ellipse class="phd" cx="1026" cy="841.5" rx="15" ry="16"/>
<ellipse class="phd" cx="1056" cy="841.5" rx="15" ry="16"/>
<polygon class="sja" points="1071,842 1078,832 1113,832 1120,842 1113,852 1078,852"/>
<rect class="set" x="1121" y="832" width="48" height="19" rx="3"/>
<text class="r" x="933" y="846">RAMA</text>
<text class="r" x="966" y="846">PHD</text>
<text class="r" x="996" y="846">PHD</text>
<text class="r" x="1026" y="846">PHD</text>
<text class="r" x="1056" y="846">PHD</text>
<text x="1095.5" y="846" font-size="10.5" text-anchor="middle">SJA/FYR</text>
<text x="1145" y="846.5" font-size="13" text-anchor="middle">SET</text>
<text class="l" x="1043" y="867">PTSG_07559_<tspan class="i">Salpingoeca rosetta</tspan>_514687557</text>
</g>

<!-- bottom strip -->
<g id="s-bathycoccus" class="n">
<rect class="rama" x="392" y="889" width="36" height="28" rx="9"/>
<ellipse class="n6" cx="472" cy="904" rx="44" ry="16"/>
<polygon class="jab" points="517,905 533.5,894 550,905 533.5,916"/>
<text class="r" x="410" y="907.5">RAMA</text>
<text x="472" y="908.5" font-size="12.5" text-anchor="middle">N6-MTase</text>
<text x="533.5" y="908" font-size="7.5" text-anchor="middle">ZFCW</text>
<text class="l i" x="457" y="929">Bathycoccus prasinos</text>
<text class="l" x="457" y="943">_612396523</text>
</g>
<g id="s-phytophthora" class="n">
<rect class="rama" x="592" y="891" width="36" height="26" rx="9"/>
<ellipse class="phd" cx="643" cy="904" rx="15" ry="16"/>
<text class="r" x="610" y="908.5">RAMA</text>
<text class="r" x="643" y="908.5">PHD</text>
<text class="l i" x="625" y="929">Phytophthora parasitica</text>
<text class="l" x="625" y="943">_566028887</text>
</g>
<g id="s-di09" class="n">
<ellipse class="brct" cx="869" cy="904" rx="30" ry="11"/>
<ellipse class="brct" cx="808" cy="904" rx="30" ry="11"/>
<rect class="rama" x="743" y="891" width="34" height="26" rx="9"/>
<ellipse class="ring" cx="727" cy="904" rx="15.5" ry="16"/>
<text x="727" y="908" font-size="10.5" text-anchor="middle">RING</text>
<text class="r" x="760" y="908.5">RAMA</text>
<text class="r" x="808" y="908.5">BRCT</text>
<text class="r" x="869" y="908.5">BRCT</text>
<text class="l" x="805" y="929">DI09_127p30_<tspan class="i">Mitosporidium daphniae</tspan></text>
<text class="l" x="808" y="943">_692170605</text>
</g>
<g id="s-guithdraft" class="n">
<polygon class="at" points="995,918 1003,918 1013,889 1005,889"/>
<text font-size="7" text-anchor="middle" transform="translate(1006,906) rotate(-70)">AT-hook</text>
<polygon class="arid" points="1013,903.5 1022,887 1052,887 1061,903.5 1052,920 1022,920"/>
<rect class="rama" x="1062" y="891" width="35" height="26" rx="9"/>
<ellipse class="tam" cx="1115" cy="905" rx="18" ry="14"/>
<text x="1037" y="901" font-size="11" text-anchor="middle">Bright</text>
<text x="1037" y="914" font-size="11" text-anchor="middle">/ARID</text>
<text class="r" x="1079.5" y="908.5">RAMA</text>
<text x="1115" y="902" font-size="10.5" text-anchor="middle">TAM</text>
<text x="1115" y="913" font-size="10.5" text-anchor="middle">/MBD</text>
<text class="l" x="1064" y="929">GUITHDRAFT_132396_<tspan class="i">Guillardia theta</tspan>_551676387</text>
</g>
<g id="s-coccomyxa" class="n">
<rect class="rama" x="433" y="957" width="36" height="27" rx="9"/>
<polygon class="jab" points="470,970 487,957 504,970 487,983"/>
<polygon class="arid" points="504,968 513,953 544,953 553,968 544,983 513,983"/>
<text class="r" x="451" y="975">RAMA</text>
<text x="487" y="973" font-size="7.5" text-anchor="middle">ZFCW</text>
<text x="528.5" y="965.5" font-size="11" text-anchor="middle">Bright</text>
<text x="528.5" y="978.5" font-size="11" text-anchor="middle">/ARID</text>
<text class="l" x="491" y="997"><tspan class="i">Coccomyxa subellipsoidea</tspan>_545357568</text>
</g>
<g id="s-aureococcus" class="n">
<rect class="rama" x="732" y="955" width="35" height="28" rx="9"/>
<rect class="tudor" x="813" y="956" width="36" height="27" rx="9"/>
<ellipse class="parp" cx="790" cy="969" rx="23" ry="16"/>
<ellipse class="ring" cx="864" cy="969" rx="15" ry="16"/>
<text class="r" x="749.5" y="973.5">RAMA</text>
<text x="790" y="972.5" font-size="9.5" text-anchor="middle">PARPFIN</text>
<text class="s" x="831" y="973">TUDOR</text>
<text x="864" y="972.5" font-size="10" text-anchor="middle">RING</text>
<text class="l" x="805" y="997"><tspan class="i">Aureococcus anophagefferens</tspan>_676383955</text>
</g>
<g id="s-mveg" class="n">
<rect class="rama" x="1002" y="955" width="35" height="28" rx="9"/>
<ellipse class="phd" cx="1052.5" cy="969" rx="15" ry="15.5"/>
<ellipse class="phd" cx="1083" cy="969" rx="15" ry="15.5"/>
<ellipse class="phd" cx="1113.5" cy="969" rx="15" ry="15.5"/>
<text class="r" x="1019.5" y="973.5">RAMA</text>
<text class="r" x="1052.5" y="973.5">PHD</text>
<text class="r" x="1083" y="973.5">PHD</text>
<text class="r" x="1113.5" y="973.5">PHD</text>
<text class="l" x="1063" y="997">MVEG_11466_<tspan class="i">Mortierella verticillata</tspan>_672817350</text>
</g>
</svg>
